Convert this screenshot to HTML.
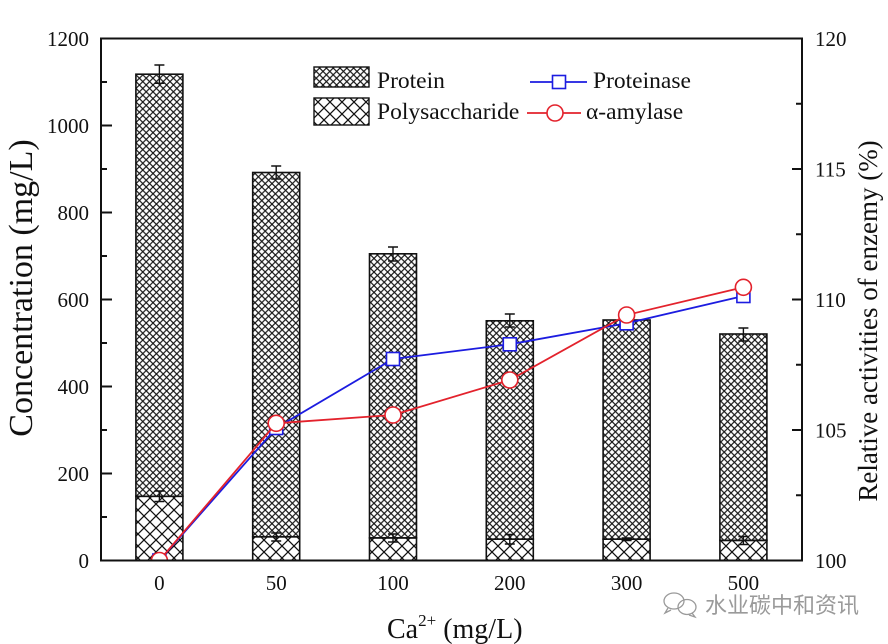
<!DOCTYPE html>
<html>
<head>
<meta charset="utf-8">
<style>
  html,body{margin:0;padding:0;background:#fff;}
  svg{display:block;}
  text{font-family:"Liberation Serif","Noto Serif CJK SC",serif;fill:#111;}
</style>
</head>
<body>
<svg width="888" height="644" viewBox="0 0 888 644" xmlns="http://www.w3.org/2000/svg">
  <defs>
    <pattern id="dense" patternUnits="userSpaceOnUse" width="6.8" height="6.8">
      <path d="M-1,-1L7.8,7.8M7.8,-1L-1,7.8" stroke="#161616" stroke-width="1.2" fill="none"/>
    </pattern>
    <pattern id="sparse" patternUnits="userSpaceOnUse" width="12" height="12">
      <path d="M-1,-1L13,13M13,-1L-1,13" stroke="#111" stroke-width="1.25" fill="none"/>
    </pattern>
    <clipPath id="plot"><rect x="101" y="38.5" width="701" height="522"/></clipPath>
  </defs>
  <rect width="888" height="644" fill="#fff"/>

  <!-- Bars -->
  <g stroke="#111" stroke-width="1.6">
    <rect x="135.9" y="74.2" width="47" height="422.1" fill="url(#dense)"/>
    <rect x="135.9" y="496.3" width="47" height="64.2" fill="url(#sparse)"/>
    <rect x="252.7" y="172.5" width="47" height="364.3" fill="url(#dense)"/>
    <rect x="252.7" y="536.8" width="47" height="23.7" fill="url(#sparse)"/>
    <rect x="369.5" y="253.8" width="47" height="284.1" fill="url(#dense)"/>
    <rect x="369.5" y="537.9" width="47" height="22.6" fill="url(#sparse)"/>
    <rect x="486.3" y="320.8" width="47" height="218.4" fill="url(#dense)"/>
    <rect x="486.3" y="539.2" width="47" height="21.3" fill="url(#sparse)"/>
    <rect x="603.1" y="320" width="47" height="219.2" fill="url(#dense)"/>
    <rect x="603.1" y="539.2" width="47" height="21.3" fill="url(#sparse)"/>
    <rect x="719.9" y="334" width="47" height="206.4" fill="url(#dense)"/>
    <rect x="719.9" y="540.4" width="47" height="20.1" fill="url(#sparse)"/>
  </g>

  <!-- Error bars -->
  <g stroke="#111" stroke-width="1.4" fill="none">
    <path d="M159.4,65V83.3M154.4,65H164.4M154.4,83.3H164.4"/>
    <path d="M276.2,166V179M271.2,166H281.2M271.2,179H281.2"/>
    <path d="M393,247V261M388,247H398M388,261H398"/>
    <path d="M509.8,314V327M504.8,314H514.8M504.8,327H514.8"/>
    <path d="M743.4,328V341M738.4,328H748.4M738.4,341H748.4"/>
    <path d="M159.4,491V501.5M154.4,491H164.4M154.4,501.5H164.4"/>
    <path d="M276.2,533V541M271.2,533H281.2M271.2,541H281.2"/>
    <path d="M393,534V542M388,534H398M388,542H398"/>
    <path d="M509.8,534.5V544M504.8,534.5H514.8M504.8,544H514.8"/>
    <path d="M626.6,538V540.5M621.6,538H631.6M621.6,540.5H631.6"/>
    <path d="M743.4,536.5V544.5M738.4,536.5H748.4M738.4,544.5H748.4"/>
  </g>

  <!-- Lines -->
  <g clip-path="url(#plot)">
    <polyline points="159.4,560.5 276.2,428 393,359 509.8,344.3 626.6,323.3 743.4,296" fill="none" stroke="#1c1ce0" stroke-width="1.8"/>
    <g fill="#fff" stroke="#1c1ce0" stroke-width="1.6">
      <rect x="152.9" y="554" width="13" height="13"/>
      <rect x="269.7" y="421.5" width="13" height="13"/>
      <rect x="386.5" y="352.5" width="13" height="13"/>
      <rect x="503.3" y="337.8" width="13" height="13"/>
      <rect x="620.1" y="316.8" width="13" height="13"/>
      <rect x="736.9" y="289.5" width="13" height="13"/>
    </g>
    <polyline points="159.4,560.5 276.2,423.3 393,415 509.8,380 626.6,315 743.4,287.3" fill="none" stroke="#e3222c" stroke-width="1.8"/>
    <g fill="#fff" stroke="#e3222c" stroke-width="1.6">
      <circle cx="159.4" cy="560.5" r="8"/>
      <circle cx="276.2" cy="423.3" r="8"/>
      <circle cx="393" cy="415" r="8"/>
      <circle cx="509.8" cy="380" r="8"/>
      <circle cx="626.6" cy="315" r="8"/>
      <circle cx="743.4" cy="287.3" r="8"/>
    </g>
  </g>

  <!-- Frame -->
  <rect x="101" y="38.5" width="701" height="522" fill="none" stroke="#111" stroke-width="2"/>

  <!-- Ticks -->
  <g stroke="#111" stroke-width="2">
    <path d="M101,473.5h11M101,386.5h11M101,299.5h11M101,212.5h11M101,125.5h11"/>
    <path d="M101,517h6M101,430h6M101,343h6M101,256h6M101,169h6M101,82h6"/>
    <path d="M802,430h-10M802,299.5h-10M802,169h-10"/>
    <path d="M802,495.25h-6M802,364.75h-6M802,234.25h-6M802,103.75h-6"/>
  </g>

  <!-- Left tick labels -->
  <g font-size="21" text-anchor="end">
    <text x="89" y="568">0</text>
    <text x="89" y="481">200</text>
    <text x="89" y="394">400</text>
    <text x="89" y="307">600</text>
    <text x="89" y="220">800</text>
    <text x="89" y="133">1000</text>
    <text x="89" y="46">1200</text>
  </g>
  <!-- Right tick labels -->
  <g font-size="21" text-anchor="start">
    <text x="815" y="568">100</text>
    <text x="815" y="437.5">105</text>
    <text x="815" y="307">110</text>
    <text x="815" y="176.5">115</text>
    <text x="815" y="46">120</text>
  </g>
  <!-- X tick labels -->
  <g font-size="21" text-anchor="middle">
    <text x="159.4" y="590">0</text>
    <text x="276.2" y="590">50</text>
    <text x="393" y="590">100</text>
    <text x="509.8" y="590">200</text>
    <text x="626.6" y="590">300</text>
    <text x="743.4" y="590">500</text>
  </g>

  <!-- Axis titles -->
  <text x="387" y="638" font-size="28">Ca<tspan font-size="17" dy="-12">2+</tspan><tspan dy="12" font-size="28"> (mg/L)</tspan></text>
  <text transform="translate(32,288) rotate(-90)" font-size="34" text-anchor="middle">Concentration (mg/L)</text>
  <text transform="translate(877,321) rotate(-90)" font-size="27" text-anchor="middle">Relative activities of enzemy (%)</text>

  <!-- Legend -->
  <rect x="314" y="67" width="55" height="20" fill="url(#dense)" stroke="#111" stroke-width="1.4"/>
  <rect x="314" y="98" width="55" height="27" fill="url(#sparse)" stroke="#111" stroke-width="1.4"/>
  <text x="377" y="88" font-size="23.5">Protein</text>
  <text x="377" y="119" font-size="23.5">Polysaccharide</text>
  <path d="M530,82H587" stroke="#1c1ce0" stroke-width="1.8"/>
  <rect x="552.5" y="75.5" width="13" height="13" fill="#fff" stroke="#1c1ce0" stroke-width="1.6"/>
  <text x="593" y="88" font-size="23.5">Proteinase</text>
  <path d="M527,113H581" stroke="#e3222c" stroke-width="1.8"/>
  <circle cx="555" cy="113" r="8" fill="#fff" stroke="#e3222c" stroke-width="1.6"/>
  <text x="586" y="119" font-size="23.5">α-amylase</text>

  <!-- Watermark -->
  <g fill="none" stroke="#9a9a9a" stroke-width="1.3">
    <ellipse cx="674" cy="601" rx="10" ry="8"/>
    <ellipse cx="687" cy="607" rx="9" ry="7.5"/>
    <path d="M668,608l-3,5l6,-3"/>
    <path d="M692,613l3,4l-6,-2"/>
  </g>
  <text x="705" y="613" font-size="22" style="font-family:'Noto Sans CJK SC','WenQuanYi Zen Hei',sans-serif;fill:#9a9a9a;">水业碳中和资讯</text>
</svg>
</body>
</html>
